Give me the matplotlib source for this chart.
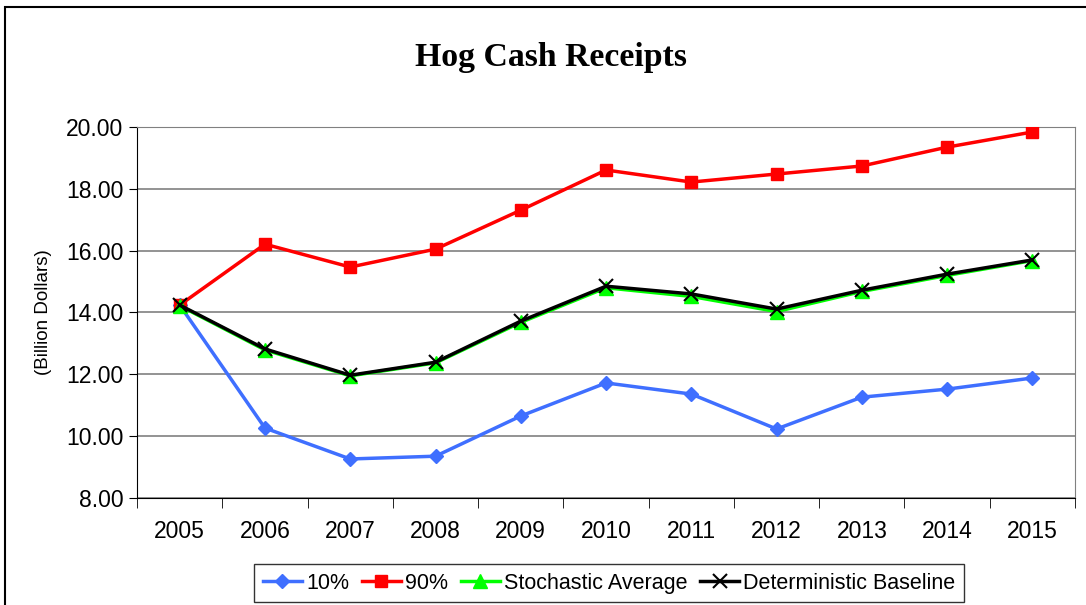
import numpy as np
import matplotlib.pyplot as plt
from matplotlib.patches import Rectangle

# Datos
years = ['2005', '2006', '2007', '2008', '2009', '2010', '2011', '2012', '2013', '2014', '2015']
p10 = [14.24, 10.26, 9.26, 9.35, 10.65, 11.72, 11.36, 10.23, 11.26, 11.52, 11.88]
p90 = [14.24, 16.21, 15.47, 16.05, 17.31, 18.61, 18.22, 18.48, 18.74, 19.35, 19.84]
stoch_avg = [14.22, 12.79, 11.95, 12.37, 13.68, 14.80, 14.52, 14.03, 14.68, 15.20, 15.68]
det_base = [14.24, 12.82, 11.97, 12.39, 13.72, 14.85, 14.60, 14.11, 14.72, 15.24, 15.70]

fig = plt.figure(figsize=(10.86, 6.05), dpi=100)
ax = fig.add_axes([0.1262, 0.177, 0.8637, 0.613])

x = np.arange(len(years))
ax.plot(x, p10, color='#3F6FFF', lw=2.5, marker='D', ms=7.5, label='10%', zorder=3)
ax.plot(x, p90, color='#FF0000', lw=2.5, marker='s', ms=9, label='90%', zorder=3)
ax.plot(x, stoch_avg, color='#00FF00', lw=2.5, marker='^', ms=10, label='Stochastic Average', zorder=4)
ax.plot(x, det_base, color='black', lw=2.5, marker='x', ms=10, mew=1.5,
        label='Deterministic Baseline', zorder=5)

ax.set_xlim(-0.5, len(years) - 0.5)
ax.set_ylim(8, 20)
ax.set_yticks(np.arange(8, 20.1, 2))
ax.set_yticklabels([f'{v:.2f}' for v in np.arange(8, 20.1, 2)])
ax.set_xticks(x)
ax.set_xticklabels(years)
ax.set_xticks(np.arange(-0.5, len(years), 1), minor=True)
ax.tick_params(axis='x', which='major', length=0, pad=16, labelsize=16.5)
ax.tick_params(axis='x', which='minor', length=7, direction='out')
ax.tick_params(axis='y', length=6, direction='out', labelsize=16.5, pad=4)
for lbl in ax.get_xticklabels() + ax.get_yticklabels():
    lbl.set_family('Liberation Sans')

ax.yaxis.grid(True, color='#808080', lw=1.2)
ax.set_axisbelow(True)
ax.spines['left'].set_color('black')
ax.spines['bottom'].set_color('black')
ax.spines['right'].set_color('#808080')
ax.spines['top'].set_color('#808080')

ax.set_ylabel('(Billion Dollars)', fontsize=13.5, family='Liberation Sans', labelpad=10)

fig.text(0.507, 0.905, 'Hog Cash Receipts', ha='center', va='center',
         fontsize=24.3, fontweight='bold', family='Liberation Serif')

leg = fig.legend(loc='center', bbox_to_anchor=(0.561, 0.036), ncol=4, frameon=True,
                 fancybox=False, edgecolor='black', handlelength=1.8, handletextpad=0.2,
                 columnspacing=0.6, borderpad=0.4, prop={'family': 'Liberation Sans', 'size': 15.5})
leg.get_frame().set_linewidth(1.0)

# borde exterior
fig.patches.append(Rectangle((5 / 1086, -0.1), 1.2, 1 - 7 / 605 + 0.1, transform=fig.transFigure,
                             fill=False, edgecolor='black', lw=1.5))

fig.savefig('out.png', dpi=100)
